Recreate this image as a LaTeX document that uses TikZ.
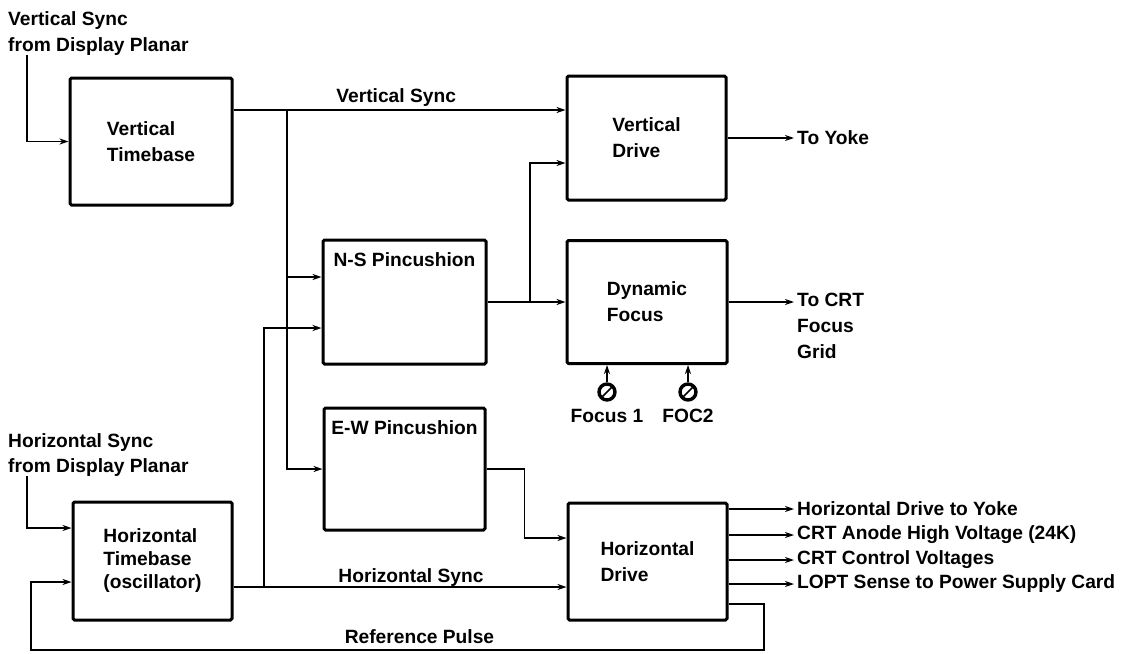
\documentclass[tikz,border=0pt]{standalone}
\usepackage{fontspec}
\setmainfont{Liberation Sans}
\usetikzlibrary{arrows.meta,positioning,calc}
\tikzset{
  BX/.style={rectangle,draw,line width=3pt,rounded corners=1.5pt,inner sep=0pt},
  TX/.style={align=left,inner sep=0pt,font=\bfseries\fontsize{19.2}{26}\selectfont},
  WR/.style={line width=1.7pt},
  arr/.style={WR,-{Stealth[length=9pt,width=6pt]}},
  oarr/.style={arr,shorten >=3pt},
  POT/.style={circle,draw,line width=3.4pt,minimum size=16pt,inner sep=0pt},
  LB/.style={anchor=base}
}

\begin{document}
\begin{tikzpicture}[x=1pt,y=-1pt,every node/.style={TX}]
  \useasboundingbox (0,0) rectangle (1129,653);

  % blocks
  \node[BX,minimum width=162pt,minimum height=127pt] (vtb) at (151,141.5) {Vertical\\Timebase};
  \node[BX,minimum width=159pt,minimum height=124pt] (vdrv) at (646.5,138) {Vertical\\Drive};
  \node[BX,minimum width=163pt,minimum height=124pt,
        label={[anchor=north,yshift=-14pt]north:N-S Pincushion}] (nsp) at (404.5,302) {};
  \node[BX,minimum width=160pt,minimum height=123pt] (dfoc) at (647,302) {Dynamic\\Focus};
  \node[BX,minimum width=161pt,minimum height=122pt,
        label={[anchor=north,yshift=-14pt]north:E-W Pincushion}] (ewp) at (404.5,469) {};
  \node[BX,minimum width=159pt,minimum height=118pt] (htb) at (152.5,561) {Horizontal\\[-3pt]Timebase\\[-3pt](oscillator)};
  \node[BX,minimum width=159pt,minimum height=117pt] (hdrv) at (647.5,561.5) {Horizontal\\Drive};

  % inputs and outputs
  \node[anchor=north west] (vsin) at (8,11) {Vertical Sync\\from Display Planar};
  \node[anchor=north west,font=\bfseries\fontsize{19.2}{25}\selectfont] (hsin) at (8,433) {Horizontal Sync\\from Display Planar};
  \node[anchor=west] (yoke) at (797,138) {To Yoke};
  \node[anchor=north west] (crt) at (797,293) {To CRT\\Focus\\Grid};
  \foreach \yy/\txt [count=\i] in {509/Horizontal Drive to Yoke,535/CRT Anode High Voltage (24K),
                                   560/CRT Control Voltages,584/LOPT Sense to Power Supply Card}
    \node[anchor=west] (out\i) at (797,\yy) {\txt};

  % focus controls
  \node[POT] (pot1) at (607,392) {};
  \node[POT] (pot2) at (688,392) {};
  \node[below=7pt of pot1] (foc1) {Focus 1};
  \node[below=7pt of pot2] (foc2) {FOC2};

  % branch points
  \coordinate (vsplit) at (287,110);
  \coordinate (hsplit) at (264,587);
  \coordinate (nsout) at (530,302);
  \coordinate (nsa) at ([yshift=25pt]nsp.west);
  \coordinate (refr) at (764,650);
  \coordinate (refl) at (31,650);

  % wiring
  \draw[arr] ([xshift=19pt]vsin.south west) |- (vtb.west);
  \draw[arr] ([xshift=19pt]hsin.south west) |- ([yshift=33pt]htb.west);
  \draw[arr] (vtb.east |- vsplit) -- node[LB,pos=0.49,yshift=8pt]{Vertical Sync} (vdrv.west |- vsplit);
  \draw[arr] (vsplit) |- (ewp.west);
  \draw[arr] (vsplit |- nsa) -- (nsa);
  \draw[arr] (htb.east |- hsplit) -- node[LB,pos=0.533,yshift=5pt]{Horizontal Sync} (hdrv.west |- hsplit);
  \draw[arr] (hsplit) |- ([yshift=-26pt]nsp.west);
  \draw[arr] (nsp.east) -- (dfoc.west);
  \draw[arr] (nsout) |- ([yshift=-25pt]vdrv.west);
  \draw[arr] (ewp.east) -- ++(38,0) |- ([yshift=23.5pt]hdrv.west);
  \draw[oarr] (vdrv.east) -- (yoke.west);
  \draw[oarr] (dfoc.east) -- (dfoc.east -| crt.west);
  \foreach \i in {1,...,4}
    \draw[oarr] (hdrv.east |- out\i.west) -- (out\i.west);
  \draw[arr] ([yshift=-42.5pt]hdrv.east) -| (refr) -- node[LB,pos=0.47,yshift=7pt]{Reference Pulse} (refl) |- ([yshift=-21pt]htb.west);
  \foreach \p in {pot1,pot2} {
    \draw[WR] ($(\p.center)!0.8!(\p.225)$) -- ($(\p.center)!0.8!(\p.45)$);
    \draw[arr] (\p) -- (\p |- dfoc.south);
  }
\end{tikzpicture}
\end{document}
